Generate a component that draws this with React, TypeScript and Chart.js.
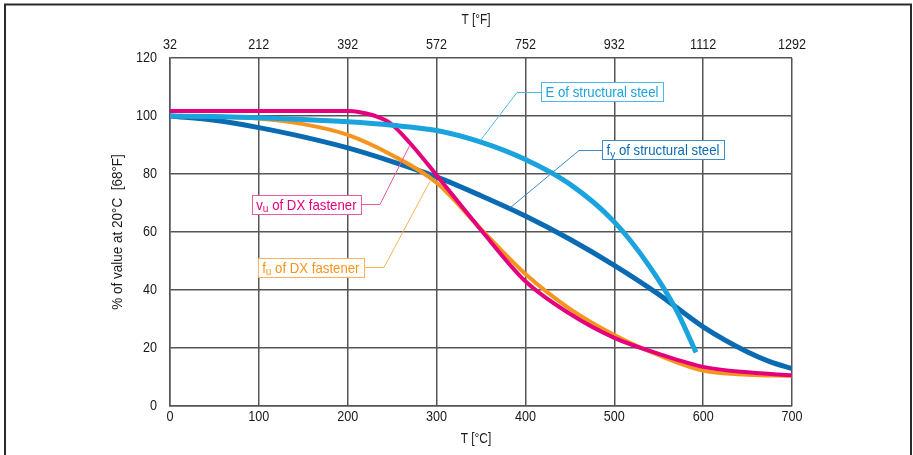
import { useEffect, useRef } from 'react';
import { Chart, registerables } from 'chart.js';

Chart.register(...registerables);

const FONT = "'Liberation Sans', Arial, sans-serif";

// ---- data ----
const celsiusTicks = [0, 100, 200, 300, 400, 500, 600, 700];
const percentTicks = [0, 20, 40, 60, 80, 100, 120];

const eTemps = [0, 50, 100, 150, 200, 250, 300, 350, 400, 450, 500, 540, 570, 592];
const eValues = [100, 99.8, 99.4, 98.8, 98, 96.8, 95, 91, 85, 76.5, 63.5, 48, 33, 18.5];

const fyTemps = [0, 50, 100, 150, 200, 250, 300, 350, 400, 450, 500, 550, 600, 650, 675, 700];
const fyValues = [100, 98.5, 96, 92.8, 89, 84.3, 79, 72.5, 65.5, 57.5, 48.5, 38.5, 27.3, 18.6, 15.3, 12.9];

const fuTemps = [0, 50, 100, 150, 200, 250, 300, 350, 400, 450, 500, 550, 600, 650, 700];
const fuValues = [100, 99.8, 99.1, 97.2, 93.5, 86.5, 77, 61, 45.5, 33.5, 24.5, 17.5, 12.2, 10.8, 10.4];

const vuTemps = [0, 100, 200, 215, 231, 248, 270, 300, 350, 400, 450, 500, 550, 600, 650, 700];
const vuValues = [101.7, 101.7, 101.7, 101.2, 100, 97.5, 90.7, 79.6, 60.7, 43, 31.8, 23.5, 18, 13.5, 11.6, 10.6];

const xTitle = 'T [°C]';
const x2Title = 'T [°F]';
const yTitle = '% of value at 20°C  [68°F]';
const toFahrenheit = (c: number) => Math.round((c * 9) / 5 + 32);

const COL_E = '#1BA3DD';
const COL_FY = '#0A6BB3';
const COL_FU = '#F7941D';
const COL_VU = '#E4007C';
const TEXT = '#1a1a1a';

const toPoints = (xs: number[], ys: number[]) => xs.map((x, i) => ({ x, y: ys[i] }));

// callout labels (data coordinates)
type Callout = {
  parts: [string, boolean][];
  color: string;
  border: string;
  side: 'left' | 'right';
  box: [number, number];
  elbow: number;
  target: [number, number];
};

const callouts: Callout[] = [
  { parts: [['v', false], ['u', true], [' of DX fastener', false]], color: COL_VU, border: '#EA5BA0', side: 'right', box: [215, 69.5], elbow: 236.3, target: [270, 90] },
  { parts: [['f', false], ['u', true], [' of DX fastener', false]], color: COL_FU, border: '#F9B25C', side: 'right', box: [218.3, 47.8], elbow: 240.8, target: [292.6, 77.5] },
  { parts: [['E of structural steel', false]], color: COL_E, border: '#4DB9E8', side: 'left', box: [417.5, 108.4], elbow: 390.5, target: [348.9, 91.4] },
  { parts: [['f', false], ['y', true], [' of structural steel', false]], color: COL_FY, border: '#3D8BC9', side: 'left', box: [486.2, 88.3], elbow: 460.3, target: [382.6, 68.3] },
];

function drawText(ctx: CanvasRenderingContext2D, text: string, x: number, y: number, size: number, sx: number, align: CanvasTextAlign, rot = 0) {
  ctx.save();
  ctx.translate(x, y);
  if (rot) ctx.rotate(rot);
  ctx.scale(sx, 1);
  ctx.font = `${size}px ${FONT}`;
  ctx.textAlign = align;
  ctx.textBaseline = 'middle';
  ctx.fillStyle = TEXT;
  ctx.fillText(text, 0, 0);
  ctx.restore();
}

const textPlugin = {
  id: 'texts',
  afterDraw(chart: any) {
    const { ctx, scales, chartArea } = chart;
    const xs = scales.x;
    const ys = scales.y;
    const cx = (chartArea.left + chartArea.right) / 2 - 5;
    for (const v of celsiusTicks) {
      const px = xs.getPixelForValue(v);
      drawText(ctx, String(v), px, chartArea.bottom + 11, 14, 0.9, 'center');
      drawText(ctx, String(toFahrenheit(v)), px, chartArea.top - 13, 14, 0.9, 'center');
    }
    for (const v of percentTicks) {
      drawText(ctx, String(v), chartArea.left - 13, ys.getPixelForValue(v), 14, 0.9, 'right');
    }
    drawText(ctx, xTitle, cx, chartArea.bottom + 33, 14, 0.85, 'center');
    drawText(ctx, x2Title, cx, chartArea.top - 38, 14, 0.85, 'center');
    drawText(ctx, yTitle, chartArea.left - 52, (chartArea.top + chartArea.bottom) / 2, 15, 0.9, 'center', -Math.PI / 2);

    // outer frame
    ctx.save();
    ctx.strokeStyle = '#2a2a2a';
    ctx.lineWidth = 2;
    ctx.strokeRect(5, 4.5, 906, 500);
    ctx.restore();
  },
};

const calloutPlugin = {
  id: 'callouts',
  afterDatasetsDraw(chart: any) {
    const { ctx, scales } = chart;
    const xs = scales.x;
    const ys = scales.y;
    const sx = 0.88;
    ctx.save();
    for (const c of callouts) {
      const mainFont = `15px ${FONT}`;
      const subFont = `11.5px ${FONT}`;
      let w = 0;
      for (const [t, sub] of c.parts) {
        ctx.font = sub ? subFont : mainFont;
        w += ctx.measureText(t).width;
      }
      const padX = 4.5;
      const bw = w * sx + padX * 2;
      const bh = 19;
      const bx = xs.getPixelForValue(c.box[0]);
      const by = ys.getPixelForValue(c.box[1]);
      const left = c.side === 'right' ? bx - bw : bx;
      const ex = xs.getPixelForValue(c.elbow);
      const tx = xs.getPixelForValue(c.target[0]);
      const ty = ys.getPixelForValue(c.target[1]);
      ctx.strokeStyle = c.border;
      ctx.lineWidth = 1;
      ctx.beginPath();
      ctx.moveTo(bx, Math.round(by) + 0.5);
      ctx.lineTo(ex, Math.round(by) + 0.5);
      ctx.lineTo(tx, ty);
      ctx.stroke();
      ctx.fillStyle = '#ffffff';
      ctx.fillRect(left, by - bh / 2, bw, bh);
      ctx.strokeRect(Math.round(left) + 0.5, Math.round(by - bh / 2) + 0.5, Math.round(bw), bh);
      ctx.save();
      ctx.translate(left + padX, by + 5.5);
      ctx.scale(sx, 1);
      ctx.fillStyle = c.color;
      ctx.textBaseline = 'alphabetic';
      ctx.textAlign = 'left';
      let x = 0;
      for (const [t, sub] of c.parts) {
        ctx.font = sub ? subFont : mainFont;
        ctx.fillText(t, x, sub ? 2.5 : 0);
        x += ctx.measureText(t).width;
      }
      ctx.restore();
    }
    ctx.restore();
  },
};

export default function App() {
  const ref = useRef<HTMLCanvasElement | null>(null);
  useEffect(() => {
    if (!ref.current) return;
    const gridColor = '#555555';
    const chart = new Chart(ref.current, {
      type: 'line',
      data: {
        datasets: [
          { label: 'E of structural steel', data: toPoints(eTemps, eValues), borderColor: COL_E, borderWidth: 5, pointRadius: 0, cubicInterpolationMode: 'monotone', fill: false },
          { label: 'vu of DX fastener', data: toPoints(vuTemps, vuValues), borderColor: COL_VU, borderWidth: 4, pointRadius: 0, cubicInterpolationMode: 'monotone', fill: false },
          { label: 'fu of DX fastener', data: toPoints(fuTemps, fuValues), borderColor: COL_FU, borderWidth: 4, pointRadius: 0, cubicInterpolationMode: 'monotone', fill: false },
          { label: 'fy of structural steel', data: toPoints(fyTemps, fyValues), borderColor: COL_FY, borderWidth: 5, pointRadius: 0, cubicInterpolationMode: 'monotone', fill: false },
        ],
      },
      options: {
        animation: false,
        responsive: false,
        maintainAspectRatio: false,
        layout: { padding: { left: 0, right: 121, top: 0, bottom: 0 } },
        plugins: { legend: { display: false }, tooltip: { enabled: false } },
        scales: {
          x: {
            type: 'linear',
            position: 'bottom',
            min: 0,
            max: 700,
            afterBuildTicks: (s: any) => { s.ticks = celsiusTicks.map((v) => ({ value: v })); },
            afterFit: (s: any) => { s.height = 49; },
            grid: { color: gridColor, lineWidth: 1.5, drawTicks: false },
            border: { color: gridColor, width: 1.5 },
            ticks: { display: false },
          },
          x2: {
            type: 'linear',
            position: 'top',
            min: 0,
            max: 700,
            afterBuildTicks: (s: any) => { s.ticks = celsiusTicks.map((v) => ({ value: v })); },
            afterFit: (s: any) => { s.height = 58; },
            grid: { display: false, drawTicks: false },
            border: { display: false },
            ticks: { display: false },
          },
          y: {
            type: 'linear',
            position: 'left',
            min: 0,
            max: 120,
            afterBuildTicks: (s: any) => { s.ticks = percentTicks.map((v) => ({ value: v })); },
            afterFit: (s: any) => { s.width = 170; },
            grid: { color: gridColor, lineWidth: 1.5, drawTicks: false },
            border: { color: gridColor, width: 1.5 },
            ticks: { display: false },
          },
        },
      },
      plugins: [calloutPlugin, textPlugin],
    } as any);
    return () => chart.destroy();
  }, []);
  return (
    <div style={{ position: 'absolute', left: 0, top: 0, width: 913, height: 455, background: '#fff' }}>
      <canvas ref={ref} width={913} height={455} style={{ display: 'block', width: 913, height: 455 }} />
    </div>
  );
}
